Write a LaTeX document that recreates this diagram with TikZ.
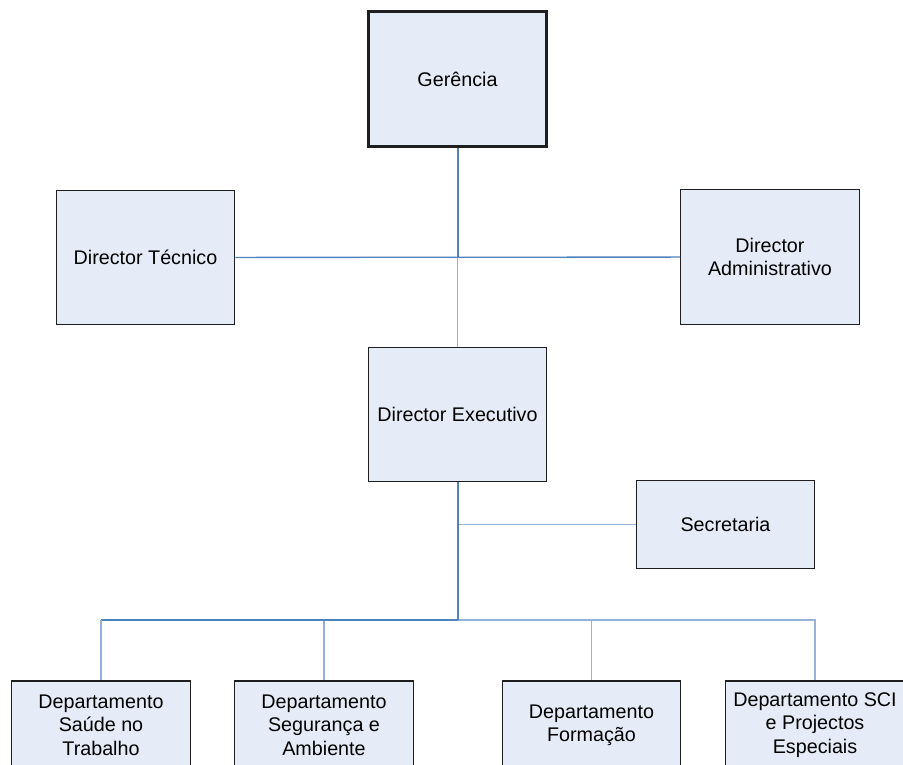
\documentclass[tikz,border=0pt]{standalone}
\usepackage{fontspec}
\setmainfont{Liberation Sans}
\definecolor{boxfill}{RGB}{230,236,247}
\definecolor{boxline}{RGB}{30,30,30}
\definecolor{darkwire}{RGB}{79,129,189}
\definecolor{lightwire}{RGB}{149,179,215}
\tikzset{
  unit/.style={draw=boxline, fill=boxfill, line width=0.85pt, align=center,
    inner sep=2pt, minimum width=134pt, minimum height=101pt,
    font=\fontsize{14.8}{17.5}\selectfont},
  lowunit/.style={unit, minimum height=66pt},
  topunit/.style={unit, line width=2.4pt},
  darkline/.style={draw=darkwire, line width=1.5pt},
  thinline/.style={draw=darkwire, line width=1pt},
  lightline/.style={draw=lightwire, line width=1.2pt}
}
\begin{document}
\begin{tikzpicture}[x=0.75pt, y=-0.75pt]
          \useasboundingbox (0,0) rectangle (903,764);
          \node[topunit] (ger) at (457.5,79) {Gerência};
          \node[unit] (tec) at (145.5,257.5) {Director Técnico};
          \node[unit] (adm) at (770,257) {Director\\Administrativo};
          \node[unit] (exe) at (457.5,414.5) {Director Executivo};
          \node[lowunit] (sec) at (725.5,524.5) {Secretaria};
          \node[lowunit] (d1) at (101,725) {Departamento\\Saúde no\\Trabalho};
          \node[lowunit] (d2) at (324,725) {Departamento\\Segurança e\\Ambiente};
          \node[lowunit] (d3) at (591.5,725) {Departamento\\Formação};
          \node[lowunit] (d4) at (815,725) {Departamento SCI\\e Projectos\\Especiais};

          \coordinate (hub) at (ger.south |- tec.east);
          \coordinate (jsec) at (exe.south |- sec.west);
          \coordinate (bus) at (457.5,620);

          \draw[lightline] (hub) -- (exe);
          \draw[lightline] (jsec) -- (sec);
          \draw[lightline] (bus) -| (d2);
          \draw[lightline] (bus) -| (d3);
          \draw[lightline] (bus) -| (d4);
          \draw[thinline] (tec) -- (adm);
          \draw[darkline] (ger) -- (hub);
          \draw[darkline] (exe) -- (bus);
          \draw[darkline] (bus) -- (bus -| d1);
          \draw[lightline] (bus -| d1) -- (d1);
\end{tikzpicture}
\end{document}
